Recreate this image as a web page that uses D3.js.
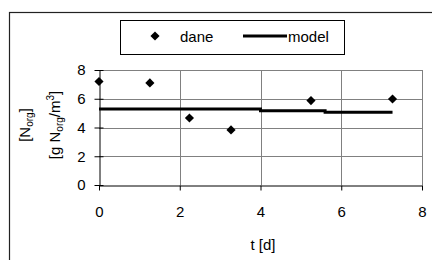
<!DOCTYPE html>
<html>
<head>
<meta charset="utf-8">
<script src="https://cdn.jsdelivr.net/npm/d3@7"></script>
<style>
  body { margin: 0; background: #fff; }
  text { font-family: "Liberation Sans", Arial, sans-serif; fill: #000; }
</style>
</head>
<body>
<div class="chart"></div>
<script>
// measured points
var dataT = [0, 1.26, 2.24, 3.27, 5.25, 7.27];
var dataN = [7.2, 7.1, 4.66, 3.83, 5.87, 5.98];
// model: stepwise constant
var modelT = [0, 4, 4, 5.6, 5.6, 7.27];
var modelN = [5.28, 5.28, 5.16, 5.16, 5.06, 5.06];
var xTicks = [0, 2, 4, 6, 8];
var yTicks = [0, 2, 4, 6, 8];

var W = 432, H = 260;
var FS = 15;
var svg = d3.select(".chart").append("svg").attr("width", W).attr("height", H);

// outer frame (runs off the right and bottom)
svg.append("rect").attr("x", 9.5).attr("y", 12.5).attr("width", 440).attr("height", 260)
  .attr("fill", "none").attr("stroke", "#222").attr("stroke-width", 1.2);

var x = d3.scaleLinear().domain([0, 8]).range([99, 422]);
var y = d3.scaleLinear().domain([0, 8]).range([185, 70]);

// grid
var grid = svg.append("g").attr("stroke", "#808080").attr("stroke-width", 1);
grid.selectAll(".gx").data(xTicks.slice(1)).enter().append("line")
  .attr("x1", d => Math.round(x(d)) + 0.5).attr("x2", d => Math.round(x(d)) + 0.5)
  .attr("y1", y(0)).attr("y2", y(8));
grid.selectAll(".gy").data(yTicks.slice(1)).enter().append("line")
  .attr("y1", d => Math.round(y(d)) + 0.5).attr("y2", d => Math.round(y(d)) + 0.5)
  .attr("x1", x(0)).attr("x2", x(8));

// axes
var yAxis = svg.append("g").attr("transform", "translate(99.5,0)")
  .call(d3.axisLeft(y).tickValues(yTicks).tickSizeInner(5).tickSizeOuter(0).tickPadding(9));
var xAxis = svg.append("g").attr("transform", "translate(0,185.5)")
  .call(d3.axisBottom(x).tickValues(xTicks).tickSizeInner(5).tickSizeOuter(0).tickPadding(16));
[xAxis, yAxis].forEach(function (a) {
  a.select(".domain").attr("stroke", "#000");
  a.selectAll(".tick line").attr("stroke", "#000");
  a.selectAll(".tick text").attr("font-size", FS).attr("font-family", "Liberation Sans, Arial, sans-serif").attr("fill", "#000");
});
yAxis.selectAll(".tick line").attr("x2", 4).attr("x1", -5);

// model line
var model = modelT.map((t, i) => [t, modelN[i]]);
svg.append("path").datum(model)
  .attr("d", d3.line().x(d => x(d[0])).y(d => y(d[1])))
  .attr("fill", "none").attr("stroke", "#000").attr("stroke-width", 3);

// data diamonds
var diamond = d3.symbol(d3.symbolSquare, 42);
svg.selectAll(".pt").data(dataT.map((t, i) => [t, dataN[i]])).enter().append("path")
  .attr("d", diamond)
  .attr("transform", d => `translate(${x(d[0])},${y(d[1])}) rotate(45)`)
  .attr("fill", "#000");

// axis titles
svg.append("text").attr("x", 263).attr("y", 250).attr("text-anchor", "middle")
  .attr("font-size", FS).text("t [d]");

var yl = svg.append("g").attr("transform", "translate(0,125) rotate(-90)");
var l1 = yl.append("text").attr("x", 0).attr("y", 30).attr("text-anchor", "middle").attr("font-size", FS);
l1.append("tspan").text("[N");
l1.append("tspan").attr("font-size", 10).attr("dy", 3).text("org");
l1.append("tspan").attr("dy", -3).text("]");
var l2 = yl.append("text").attr("x", 0).attr("y", 60).attr("text-anchor", "middle").attr("font-size", FS);
l2.append("tspan").text("[g N");
l2.append("tspan").attr("font-size", 10).attr("dy", 3).text("org");
l2.append("tspan").attr("dy", -3).text("/m");
l2.append("tspan").attr("font-size", 10).attr("dy", -6).text("3");
l2.append("tspan").attr("dy", 6).text("]");

// legend
var lg = svg.append("g");
lg.append("rect").attr("x", 120.5).attr("y", 20.5).attr("width", 224).attr("height", 34)
  .attr("fill", "#fff").attr("stroke", "#000").attr("stroke-width", 1);
lg.append("path").attr("d", diamond).attr("transform", "translate(155,36) rotate(45)").attr("fill", "#000");
lg.append("text").attr("x", 180).attr("y", 42).attr("font-size", FS).text("dane");
lg.append("line").attr("x1", 243).attr("x2", 287).attr("y1", 36).attr("y2", 36)
  .attr("stroke", "#000").attr("stroke-width", 3);
lg.append("text").attr("x", 288).attr("y", 42).attr("font-size", FS).text("model");
</script>
</body>
</html>
